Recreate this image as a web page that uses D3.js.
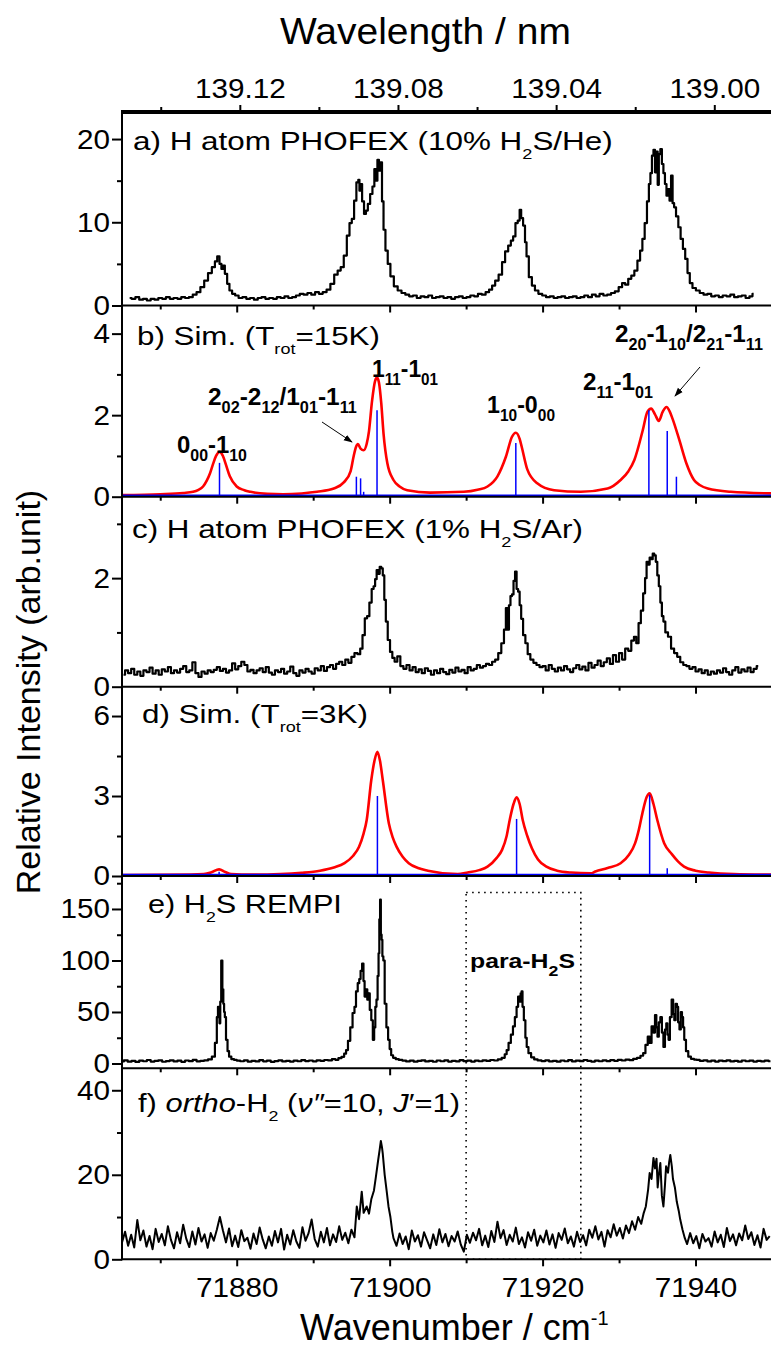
<!DOCTYPE html>
<html><head><meta charset="utf-8">
<script src="https://cdn.jsdelivr.net/npm/d3@7"></script>
<style>
body{margin:0;background:#fff;}
svg text{font-family:Arial,"Liberation Sans",sans-serif;fill:#000;}
</style></head><body>
<svg id="c" width="771" height="1351"></svg>
<script>
// ---------------- DATA ----------------
const xMajor = [71880, 71900, 71920, 71940];
const xMinor = [71870, 71890, 71910, 71930, 71950];
const topMajor = [139.12, 139.08, 139.04, 139.00];
const topMinor = [139.14, 139.10, 139.06, 139.02];
const aMajor=[0,10,20], aMinor=[5,15];
const bMajor=[0,2,4], bMinor=[1,3];
const cMajor=[0,2], cMinor=[1,3];
const dMajor=[0,3,6], dMinor=[1.5,4.5];
const eMajor=[0,50,100,150], eMinor=[25,75,125,175];
const fMajor=[0,20,40], fMinor=[10,30];

// a) H atom PHOFEX (10% H2S/He)
const seriesA = [[71866,0.9],[71866.5,0.8],[71867,1.0],[71867.5,0.7],[71868,0.8],[71868.5,0.6],[71869,0.8],[71869.5,0.7],[71870,0.9],[71870.5,0.8],[71871,1.0],[71871.5,0.8],[71872,0.9],[71872.5,0.8],[71873,1.0],[71873.5,0.9],[71874,1.0],[71874.5,1.3],[71875,1.6],[71875.5,2.2],[71876,3.0],[71876.5,3.9],[71877,4.6],[71877.3,5.3],[71877.6,5.9],[71877.9,5.0],[71878.1,4.4],[71878.3,4.8],[71878.6,3.8],[71878.9,2.6],[71879.2,1.8],[71879.6,1.4],[71880,1.2],[71880.5,0.9],[71881,1.0],[71881.5,0.8],[71882,0.9],[71882.5,0.7],[71883,0.9],[71883.5,1.0],[71884,0.8],[71884.5,0.9],[71885,0.8],[71885.5,1.0],[71886,0.9],[71886.5,1.1],[71887,0.9],[71887.5,1.0],[71888,1.2],[71888.5,1.4],[71889,1.3],[71889.5,1.5],[71890,1.3],[71890.5,1.6],[71891,1.4],[71891.5,1.6],[71892,1.9],[71892.5,2.6],[71893,3.7],[71893.4,4.2],[71893.8,4.6],[71894.2,6.0],[71894.6,8.4],[71894.9,9.9],[71895.2,10.4],[71895.5,12.6],[71895.8,14.8],[71896.0,15.1],[71896.1,13.8],[71896.3,14.6],[71896.5,12.5],[71896.8,11.0],[71897.0,11.4],[71897.3,12.2],[71897.6,13.4],[71897.9,14.3],[71898.1,16.4],[71898.3,15.0],[71898.5,17.5],[71898.7,16.2],[71898.9,17.2],[71899.1,12.5],[71899.3,9.1],[71899.6,6.6],[71899.9,5.0],[71900.3,3.5],[71900.8,2.3],[71901.3,1.8],[71901.8,1.5],[71902.3,1.3],[71902.8,1.1],[71903.3,1.2],[71903.8,0.9],[71904.3,1.1],[71904.8,1.0],[71905.3,1.2],[71905.8,0.9],[71906.3,1.0],[71906.8,1.1],[71907.3,0.9],[71907.8,1.0],[71908.3,0.8],[71908.8,1.0],[71909.3,1.1],[71909.8,0.9],[71910.3,1.0],[71910.8,1.2],[71911.3,1.1],[71911.8,1.4],[71912.3,1.3],[71912.8,1.6],[71913.2,1.9],[71913.6,2.4],[71914.0,3.0],[71914.5,3.7],[71914.9,5.2],[71915.3,6.5],[71915.7,7.2],[71916.0,7.8],[71916.3,8.3],[71916.6,9.9],[71916.9,10.2],[71917.1,11.5],[71917.3,10.5],[71917.6,9.6],[71917.8,7.6],[71918.0,5.9],[71918.4,3.4],[71918.8,2.4],[71919.2,1.8],[71919.7,1.4],[71920.2,1.2],[71920.7,1.0],[71921.2,1.1],[71921.7,0.9],[71922.2,1.0],[71922.7,1.1],[71923.2,0.9],[71923.7,1.0],[71924.2,1.1],[71924.7,0.9],[71925.2,1.0],[71925.7,1.2],[71926.2,1.0],[71926.7,1.3],[71927.2,1.1],[71927.7,1.4],[71928.2,1.2],[71928.7,1.3],[71929.2,1.5],[71929.7,1.7],[71930.2,2.2],[71930.6,2.7],[71931.0,2.5],[71931.4,3.2],[71931.8,3.6],[71932.2,4.2],[71932.6,5.4],[71932.9,6.6],[71933.2,8.0],[71933.5,9.9],[71933.8,12.5],[71934.0,14.6],[71934.2,15.9],[71934.4,18.0],[71934.6,18.7],[71934.8,16.0],[71935.0,18.5],[71935.1,14.5],[71935.3,18.2],[71935.5,18.8],[71935.7,17.0],[71935.9,15.9],[71936.1,14.6],[71936.3,13.2],[71936.5,14.0],[71936.7,12.6],[71936.9,15.6],[71937.1,12.3],[71937.3,11.8],[71937.6,10.7],[71937.9,9.4],[71938.2,8.0],[71938.5,6.8],[71938.8,5.6],[71939.1,3.9],[71939.4,2.7],[71939.8,2.1],[71940.3,1.8],[71940.8,1.5],[71941.3,1.3],[71941.8,1.4],[71942.3,1.1],[71942.8,1.2],[71943.3,1.0],[71943.8,1.2],[71944.3,1.1],[71944.8,1.3],[71945.3,1.0],[71945.8,1.1],[71946.3,1.2],[71946.8,0.9],[71947.3,1.1],[71947.6,1.4]];

// b) simulation 15 K
const simB = [[71865,0.04],[71870,0.06],[71873,0.09],[71874.3,0.12],[71875.0,0.17],[71875.6,0.25],[71876.1,0.4],[71876.5,0.57],[71876.9,0.8],[71877.3,1.0],[71877.75,1.10],[71878.2,1.0],[71878.6,0.78],[71879.1,0.5],[71880.0,0.25],[71881.0,0.16],[71881.8,0.12],[71884,0.07],[71886.1,0.06],[71888.5,0.08],[71890.5,0.12],[71892.7,0.2],[71894.0,0.35],[71894.9,0.63],[71895.3,1.0],[71895.6,1.22],[71895.85,1.29],[71896.2,1.18],[71896.6,1.14],[71897.0,1.3],[71897.3,1.61],[71897.7,2.35],[71898.1,2.84],[71898.35,2.92],[71898.6,2.8],[71898.9,2.3],[71899.2,1.55],[71899.7,0.82],[71900.5,0.41],[71901.3,0.25],[71902.3,0.16],[71905.3,0.1],[71909.7,0.12],[71911.5,0.17],[71912.8,0.25],[71914.1,0.5],[71915.2,0.98],[71916.0,1.47],[71916.5,1.57],[71917.0,1.42],[71917.3,1.2],[71918.0,0.67],[71919.3,0.33],[71921.5,0.16],[71925.0,0.12],[71928.5,0.2],[71930.2,0.41],[71931.2,0.62],[71932.0,0.9],[71933.1,1.63],[71933.7,2.08],[71934.2,2.16],[71934.7,2.02],[71935.2,1.86],[71935.7,2.08],[71936.2,2.2],[71936.6,2.1],[71937.0,1.91],[71937.9,1.38],[71938.8,0.82],[71939.8,0.41],[71940.6,0.28],[71941.6,0.2],[71944.6,0.12],[71950,0.08]];
const sticksB = [[71877.75,0.83],[71895.65,0.49],[71896.2,0.45],[71896.6,0.12],[71898.35,2.12],[71916.5,1.32],[71933.9,2.12],[71936.3,1.61],[71937.5,0.49]];

// c) H atom PHOFEX (1% H2S/Ar)
const seriesC = [[71865.2,0.22],[71865.6,0.30],[71866,0.25],[71866.4,0.33],[71866.8,0.22],[71867.2,0.28],[71867.6,0.20],[71868,0.30],[71868.4,0.27],[71868.8,0.35],[71869.2,0.24],[71869.6,0.30],[71870,0.22],[71870.4,0.32],[71870.8,0.28],[71871.2,0.36],[71871.6,0.25],[71872,0.30],[71872.4,0.26],[71872.8,0.33],[71873.2,0.38],[71873.6,0.27],[71874,0.30],[71874.4,0.45],[71874.8,0.25],[71875.2,0.18],[71875.6,0.28],[71876,0.24],[71876.4,0.30],[71876.8,0.27],[71877.2,0.31],[71877.6,0.36],[71878,0.29],[71878.4,0.33],[71878.8,0.26],[71879.2,0.30],[71879.6,0.43],[71880,0.32],[71880.4,0.38],[71880.8,0.46],[71881.2,0.40],[71881.6,0.28],[71882,0.31],[71882.4,0.25],[71882.8,0.30],[71883.2,0.34],[71883.6,0.27],[71884,0.36],[71884.4,0.26],[71884.8,0.22],[71885.2,0.30],[71885.6,0.27],[71886,0.33],[71886.4,0.24],[71886.8,0.28],[71887.2,0.37],[71887.6,0.25],[71888,0.20],[71888.4,0.30],[71888.8,0.26],[71889.2,0.33],[71889.6,0.28],[71890,0.24],[71890.4,0.34],[71890.8,0.30],[71891.2,0.38],[71891.6,0.29],[71892,0.36],[71892.4,0.40],[71892.8,0.33],[71893.2,0.42],[71893.6,0.46],[71894,0.40],[71894.4,0.50],[71894.8,0.44],[71895.2,0.55],[71895.6,0.62],[71896,0.60],[71896.3,0.70],[71896.6,0.95],[71896.9,1.26],[71897.2,1.30],[71897.5,1.55],[71897.8,1.80],[71898.0,1.85],[71898.2,1.98],[71898.4,2.15],[71898.6,2.08],[71898.8,2.21],[71899.0,2.18],[71899.2,2.05],[71899.4,1.60],[71899.6,1.20],[71899.9,0.86],[71900.2,0.64],[71900.5,0.53],[71900.8,0.46],[71901.2,0.56],[71901.6,0.38],[71902,0.33],[71902.4,0.40],[71902.8,0.30],[71903.2,0.36],[71903.6,0.27],[71904,0.32],[71904.4,0.25],[71904.8,0.34],[71905.2,0.29],[71905.6,0.22],[71906,0.30],[71906.4,0.25],[71906.8,0.33],[71907.2,0.27],[71907.6,0.23],[71908,0.31],[71908.4,0.26],[71908.8,0.35],[71909.2,0.28],[71909.6,0.31],[71910,0.25],[71910.4,0.36],[71910.8,0.30],[71911.2,0.33],[71911.6,0.40],[71912,0.35],[71912.4,0.38],[71912.8,0.42],[71913.2,0.40],[71913.6,0.46],[71914,0.50],[71914.4,0.62],[71914.8,0.80],[71915.1,1.05],[71915.3,1.45],[71915.5,1.05],[71915.7,1.50],[71915.9,1.67],[71916.1,1.70],[71916.3,1.95],[71916.5,2.12],[71916.7,1.80],[71916.9,1.75],[71917.1,1.50],[71917.3,1.25],[71917.6,0.95],[71917.9,0.80],[71918.2,0.60],[71918.6,0.50],[71919,0.44],[71919.4,0.40],[71919.8,0.36],[71920.2,0.38],[71920.6,0.30],[71921,0.40],[71921.4,0.33],[71921.8,0.28],[71922.2,0.35],[71922.6,0.30],[71923,0.38],[71923.4,0.32],[71923.8,0.27],[71924.2,0.34],[71924.6,0.40],[71925,0.32],[71925.4,0.37],[71925.8,0.30],[71926.2,0.44],[71926.6,0.35],[71927,0.40],[71927.4,0.48],[71927.8,0.38],[71928.2,0.45],[71928.6,0.52],[71929,0.42],[71929.4,0.58],[71929.8,0.46],[71930.2,0.62],[71930.6,0.50],[71931,0.70],[71931.4,0.66],[71931.8,0.85],[71932.1,0.92],[71932.4,0.80],[71932.7,1.17],[71933.0,1.40],[71933.3,1.72],[71933.5,2.00],[71933.7,2.30],[71933.9,2.25],[71934.1,2.38],[71934.3,2.35],[71934.5,2.45],[71934.7,2.42],[71934.9,2.30],[71935.1,2.05],[71935.3,1.85],[71935.5,1.55],[71935.7,1.30],[71935.9,1.20],[71936.2,1.00],[71936.6,0.92],[71937.0,0.70],[71937.4,0.62],[71937.8,0.55],[71938.2,0.45],[71938.6,0.40],[71939,0.38],[71939.4,0.33],[71939.8,0.36],[71940.2,0.28],[71940.6,0.32],[71941,0.25],[71941.4,0.30],[71941.8,0.22],[71942.2,0.28],[71942.6,0.24],[71943,0.30],[71943.4,0.26],[71943.8,0.34],[71944.2,0.27],[71944.6,0.22],[71945,0.30],[71945.4,0.36],[71945.8,0.26],[71946.2,0.32],[71946.6,0.28],[71947,0.35],[71947.4,0.27],[71947.8,0.33],[71948.2,0.38]];

// d) simulation 3 K
const simD = [[71865,0.04],[71874,0.05],[71875.7,0.07],[71876.7,0.14],[71877.7,0.25],[71878.5,0.15],[71879.3,0.07],[71882,0.05],[71885.7,0.07],[71888.5,0.12],[71890.9,0.2],[71892.7,0.32],[71894.1,0.48],[71895.2,0.75],[71896.0,1.1],[71896.6,1.6],[71897.0,2.1],[71897.6,3.6],[71898.0,4.3],[71898.4,4.66],[71898.75,4.3],[71899.1,3.6],[71899.9,1.97],[71900.4,1.45],[71900.9,1.1],[71901.7,0.72],[71902.5,0.48],[71903.7,0.3],[71905.0,0.2],[71908.9,0.07],[71910.2,0.13],[71911.7,0.22],[71912.8,0.35],[71914.0,0.68],[71914.7,0.98],[71915.3,1.5],[71915.7,2.1],[71916.2,2.7],[71916.6,2.95],[71917.0,2.7],[71917.4,2.1],[71918.0,1.5],[71918.6,1.04],[71919.4,0.62],[71920.5,0.35],[71921.9,0.2],[71923.7,0.13],[71926.3,0.1],[71926.9,0.17],[71928.5,0.3],[71930.2,0.48],[71931.3,0.8],[71932.1,1.23],[71932.6,1.75],[71933.05,2.35],[71933.6,2.95],[71934.0,3.1],[71934.5,2.7],[71935.0,2.1],[71935.9,1.23],[71936.9,0.82],[71937.7,0.55],[71938.5,0.35],[71940,0.2],[71941.75,0.13],[71945,0.07],[71950,0.05]];
const sticksD = [[71877.7,0.16],[71898.4,3.0],[71916.6,2.14],[71934.0,3.04],[71936.3,0.29]];

// e) H2S REMPI
const seriesE = [[71865,2.0],[71865.5,3.0],[71866,1.8],[71866.5,2.6],[71867,1.5],[71867.5,2.8],[71868,2.2],[71868.5,3.4],[71869,1.9],[71869.5,2.5],[71870,3.1],[71870.5,1.7],[71871,2.4],[71871.5,3.0],[71872,2.0],[71872.5,2.7],[71873,1.6],[71873.5,2.9],[71874,2.3],[71874.5,3.5],[71875,2.1],[71875.5,2.6],[71876,3.0],[71876.5,4.0],[71877.0,6.6],[71877.3,20],[71877.5,45],[71877.6,55],[71877.7,48],[71877.8,39],[71877.9,60],[71878.05,100],[71878.2,72],[71878.3,58],[71878.4,50],[71878.5,45],[71878.7,23],[71878.9,12],[71879.1,6.6],[71879.5,4.2],[71879.8,3.5],[71880.2,2.8],[71880.7,2.2],[71881.2,3.0],[71881.7,1.8],[71882.2,2.6],[71882.7,2.0],[71883.2,3.2],[71883.7,2.1],[71884.2,2.7],[71884.7,1.6],[71885.2,2.4],[71885.7,3.0],[71886.2,2.0],[71886.7,2.6],[71887.2,1.9],[71887.7,2.8],[71888.2,2.2],[71888.7,3.3],[71889.2,2.4],[71889.7,2.9],[71890.2,2.1],[71890.7,3.0],[71891.2,2.6],[71891.7,3.4],[71892.2,3.0],[71892.7,4.2],[71893.1,3.6],[71893.5,5.2],[71893.9,6.5],[71894.2,9.5],[71894.4,13],[71894.7,22],[71895.0,35],[71895.3,49],[71895.5,55],[71895.7,70],[71895.95,78],[71896.1,82],[71896.3,90],[71896.5,97],[71896.65,80],[71896.8,65],[71897.0,72],[71897.15,62],[71897.3,68],[71897.5,52],[71897.7,42],[71897.9,23],[71898.05,35],[71898.2,55],[71898.35,62],[71898.5,85],[71898.6,107],[71898.7,140],[71898.8,159],[71898.9,125],[71899.0,120],[71899.1,104],[71899.25,100],[71899.45,58],[71899.7,35],[71899.9,23],[71900.1,14],[71900.3,8],[71900.6,5.5],[71901.0,4.2],[71901.4,3.5],[71901.9,2.8],[71902.4,2.0],[71902.9,2.7],[71903.4,1.8],[71903.9,2.5],[71904.4,3.1],[71904.9,2.0],[71905.4,2.6],[71905.9,1.7],[71906.4,2.9],[71906.9,2.2],[71907.4,3.0],[71907.9,1.9],[71908.4,2.6],[71908.9,2.1],[71909.4,3.2],[71909.9,2.3],[71910.4,2.8],[71910.9,1.9],[71911.4,2.7],[71911.9,2.2],[71912.4,3.1],[71912.9,2.5],[71913.4,3.4],[71913.9,2.9],[71914.4,4.0],[71914.9,5.5],[71915.2,9],[71915.4,13],[71915.7,20],[71916.0,28],[71916.25,36],[71916.5,45],[71916.7,55],[71916.9,65],[71917.05,60],[71917.2,68],[71917.3,70],[71917.45,55],[71917.65,42],[71917.85,25],[71918.0,16],[71918.3,10],[71918.7,6],[71919.1,4.0],[71919.6,3.0],[71920.1,2.4],[71920.6,3.0],[71921.1,2.0],[71921.6,2.6],[71922.1,1.8],[71922.6,2.9],[71923.1,2.2],[71923.6,3.3],[71924.1,2.0],[71924.6,2.7],[71925.1,2.3],[71925.6,3.4],[71926.1,2.5],[71926.6,1.9],[71927.1,2.8],[71927.6,2.2],[71928.1,3.0],[71928.6,2.4],[71929.1,3.2],[71929.6,2.6],[71930.1,3.5],[71930.6,2.9],[71931.1,3.8],[71931.6,3.2],[71932.1,4.5],[71932.6,5.5],[71933.0,7.5],[71933.3,10],[71933.6,18],[71933.9,26],[71934.1,20],[71934.4,36],[71934.6,30],[71934.8,47],[71934.95,35],[71935.1,26],[71935.3,40],[71935.5,45],[71935.7,30],[71935.9,16],[71936.1,33],[71936.25,39],[71936.4,28],[71936.55,23],[71936.75,45],[71937.0,62],[71937.15,48],[71937.3,42],[71937.5,58],[71937.65,55],[71937.8,40],[71938.0,33],[71938.15,50],[71938.3,45],[71938.45,35],[71938.6,23],[71938.9,12],[71939.2,6.6],[71939.6,4.5],[71940.0,3.8],[71940.3,3.5],[71940.8,2.6],[71941.3,3.0],[71941.8,2.0],[71942.3,2.7],[71942.8,1.9],[71943.3,2.8],[71943.8,2.3],[71944.3,3.1],[71944.8,2.0],[71945.3,2.6],[71945.8,1.8],[71946.3,2.9],[71946.8,2.2],[71947.3,2.7],[71947.8,1.9],[71948.3,2.5],[71948.8,2.1],[71949.3,2.8],[71949.8,2.2]];

// f) ortho-H2 (v''=10, J'=1)
const seriesF = [[71865.0,4.0],[71865.4,6.5],[71865.8,3.2],[71866.2,5.8],[71866.6,2.8],[71867.0,9.3],[71867.4,4.5],[71867.8,6.8],[71868.2,3.0],[71868.6,5.5],[71869.0,2.4],[71869.4,7.2],[71869.8,4.1],[71870.2,6.0],[71870.6,3.3],[71871.0,7.8],[71871.4,4.6],[71871.8,2.6],[71872.2,6.4],[71872.6,3.8],[71873.0,8.2],[71873.4,4.9],[71873.8,2.9],[71874.2,6.6],[71874.6,3.5],[71875.0,7.4],[71875.4,4.2],[71875.8,5.9],[71876.2,2.7],[71876.6,6.2],[71877.0,4.4],[71877.4,7.0],[71877.8,10.0],[71878.2,6.8],[71878.6,4.0],[71879.0,7.3],[71879.4,3.1],[71879.8,5.6],[71880.2,2.9],[71880.6,6.9],[71881.0,4.3],[71881.4,5.1],[71881.8,2.5],[71882.2,6.1],[71882.6,3.6],[71883.0,7.5],[71883.4,4.7],[71883.8,2.6],[71884.2,5.4],[71884.6,3.2],[71885.0,6.7],[71885.4,4.0],[71885.8,7.2],[71886.2,2.3],[71886.6,5.8],[71887.0,3.5],[71887.4,6.9],[71887.8,4.2],[71888.2,2.7],[71888.6,7.6],[71889.0,4.4],[71889.4,6.2],[71889.8,9.4],[71890.2,4.8],[71890.6,3.0],[71891.0,6.5],[71891.4,4.0],[71891.8,7.4],[71892.2,3.3],[71892.6,5.9],[71893.0,4.1],[71893.4,7.8],[71893.8,4.6],[71894.2,6.3],[71894.6,3.8],[71895.0,7.0],[71895.4,5.2],[71895.7,12.5],[71896.0,9.5],[71896.35,16.0],[71896.6,11.0],[71897.0,12.5],[71897.3,10.8],[71897.6,14.2],[71897.95,16.3],[71898.2,19.5],[71898.5,23.5],[71898.7,26.0],[71898.85,28.0],[71899.0,26.5],[71899.1,25.0],[71899.35,20.0],[71899.6,16.3],[71899.85,12.5],[71900.1,10.0],[71900.35,6.5],[71900.5,5.0],[71900.9,3.2],[71901.3,6.1],[71901.7,3.6],[71902.1,5.4],[71902.5,2.4],[71902.9,6.8],[71903.3,4.2],[71903.7,5.7],[71904.1,3.0],[71904.5,6.4],[71904.9,4.5],[71905.3,2.6],[71905.7,5.9],[71906.1,3.4],[71906.5,7.1],[71906.9,4.0],[71907.3,6.0],[71907.7,3.1],[71908.1,5.5],[71908.5,4.2],[71908.9,6.6],[71909.3,3.5],[71909.7,1.8],[71910.1,5.8],[71910.5,3.9],[71910.9,6.3],[71911.3,4.5],[71911.7,7.2],[71912.1,3.3],[71912.5,5.6],[71912.9,2.9],[71913.3,6.7],[71913.7,4.1],[71914.1,8.9],[71914.5,5.0],[71914.9,6.9],[71915.3,3.4],[71915.7,5.8],[71916.1,4.2],[71916.5,7.5],[71916.9,3.6],[71917.3,5.2],[71917.7,2.8],[71918.1,6.4],[71918.5,4.4],[71918.9,7.0],[71919.3,3.2],[71919.7,5.6],[71920.1,4.0],[71920.5,6.8],[71920.9,3.5],[71921.3,5.9],[71921.7,2.7],[71922.1,6.2],[71922.5,4.6],[71922.9,7.3],[71923.3,3.8],[71923.7,5.4],[71924.1,3.0],[71924.5,6.5],[71924.9,4.1],[71925.3,5.7],[71925.7,3.3],[71926.1,7.0],[71926.5,5.1],[71926.9,7.8],[71927.3,4.7],[71927.7,6.5],[71928.1,3.0],[71928.5,6.9],[71928.9,5.2],[71929.3,8.3],[71929.7,5.6],[71930.1,7.4],[71930.5,4.9],[71930.9,8.0],[71931.3,6.2],[71931.7,9.0],[71932.1,7.0],[71932.5,10.0],[71932.9,8.4],[71933.2,10.8],[71933.5,12.5],[71933.8,16.5],[71934.0,20.4],[71934.25,19.0],[71934.5,24.0],[71934.7,21.5],[71934.9,23.8],[71935.05,17.0],[71935.2,20.0],[71935.4,22.8],[71935.6,15.0],[71935.8,12.5],[71936.0,17.5],[71936.15,22.0],[71936.4,20.5],[71936.55,23.0],[71936.7,24.7],[71936.9,22.0],[71937.05,19.0],[71937.3,17.0],[71937.55,13.6],[71937.8,11.5],[71938.0,9.4],[71938.3,7.0],[71938.6,5.0],[71938.9,3.6],[71939.3,6.2],[71939.7,3.8],[71940.1,5.5],[71940.5,2.6],[71940.9,6.0],[71941.3,4.2],[71941.7,5.0],[71942.1,3.0],[71942.5,6.6],[71942.9,4.0],[71943.3,5.8],[71943.7,2.9],[71944.1,7.4],[71944.5,4.3],[71944.9,5.9],[71945.3,3.3],[71945.7,6.1],[71946.1,4.5],[71946.5,8.0],[71946.9,4.8],[71947.3,6.4],[71947.7,3.4],[71948.1,5.7],[71948.5,2.8],[71948.9,7.2],[71949.3,4.6],[71949.7,5.5]];

// para-H2S box: wavenumber range and top (in panel e units)
const paraBoxX = [71910, 71925];
const paraBoxTopE = 166;

// ---------------- LAYOUT ----------------
const svg = d3.select('#c');
const L = 122, R = 772, TOP = 112;
const FONT = 'Arial, "Liberation Sans", sans-serif';
const x = d3.scaleLinear().domain([71865, 71950]).range([L, R]);
const xTop = d3.scaleLinear().domain([1e7/71865, 1e7/71950]).range([L, R]);

const panelDefs = [
  {y0:112,   y1:305.5,  dom:[0,23.25], major:aMajor, minor:aMinor},
  {y0:305.5, y1:496.7,  dom:[0,4.69],  major:bMajor, minor:bMinor},
  {y0:496.7, y1:686.7,  dom:[0,3.5],   major:cMajor, minor:cMinor},
  {y0:686.7, y1:876,    dom:[0,7.1],   major:dMajor, minor:dMinor},
  {y0:876,   y1:1068.3, dom:[-4.66,182], major:eMajor, minor:eMinor},
  {y0:1068.3,y1:1259.3, dom:[0,45.2],  major:fMajor, minor:fMinor},
];
panelDefs.forEach(p => p.y = d3.scaleLinear().domain(p.dom).range([p.y1, p.y0]));
const [pA,pB,pC,pD,pE,pF] = panelDefs;

const TICKSTRETCH = 1.06;
function styleTicks(sel, size){
  sel.attr('font-family', FONT).attr('font-size', size);
  sel.select('.domain').remove();
  sel.selectAll('.tick line').attr('stroke','#000').attr('stroke-width',2);
}

const lineOf = (p) => d3.line().x(d=>x(d[0])).y(d=>p.y(d[1]));
function trace(p, data, color, w, curve){
  const l = lineOf(p); if(curve) l.curve(curve);
  svg.append('path').datum(data).attr('d', l).attr('fill','none')
    .attr('stroke', color).attr('stroke-width', w).attr('stroke-linejoin','round');
}
trace(pA, seriesA, '#000', 2.2, d3.curveStep);
trace(pC, seriesC, '#000', 2.2, d3.curveStep);
trace(pE, seriesE, '#000', 2.2, d3.curveStep);
trace(pF, seriesF, '#000', 2.0);

function simPanel(p, curveData, sticks){
  trace(p, curveData, '#ff0000', 2.6, d3.curveMonotoneX);
  svg.append('g').selectAll('line').data(sticks).join('line')
    .attr('x1', d=>x(d[0])).attr('x2', d=>x(d[0]))
    .attr('y1', p.y(0)).attr('y2', d=>p.y(d[1]))
    .attr('stroke','#0000ff').attr('stroke-width',1.5);
  svg.append('line').attr('x1', x(71865)).attr('x2', x(71950))
    .attr('y1', p.y(0)-1.2).attr('y2', p.y(0)-1.2)
    .attr('stroke','#0000ff').attr('stroke-width',2.2);
}
simPanel(pB, simB, sticksB);
simPanel(pD, simD, sticksD);

panelDefs.forEach((p, i) => {
  svg.append('g').attr('transform',`translate(${L},0)`)
    .call(d3.axisLeft(p.y).tickValues(p.minor).tickSize(5).tickFormat(''))
    .call(s=>styleTicks(s, 28));
  const gy = svg.append('g').attr('transform',`translate(${L},0)`)
    .call(d3.axisLeft(p.y).tickValues(p.major).tickSize(10).tickPadding(2).tickFormat(d3.format('d')))
    .call(s=>styleTicks(s, 28));
  gy.selectAll('.tick text').each(function(){
    const t = d3.select(this); const xv = +t.attr('x');
    t.attr('x', xv / TICKSTRETCH).attr('transform', `scale(${TICKSTRETCH},1)`).attr('fill','#000');
  });
  svg.append('g').attr('transform',`translate(0,${p.y1})`)
    .call(d3.axisBottom(x).tickValues(xMinor).tickSize(4).tickFormat(''))
    .call(s=>styleTicks(s, 28));
  const last = i === panelDefs.length-1;
  const gx = svg.append('g').attr('transform',`translate(0,${p.y1})`)
    .call(d3.axisBottom(x).tickValues(xMajor).tickSize(7).tickPadding(11)
      .tickFormat(last ? d3.format('d') : ''))
    .call(s=>styleTicks(s, 28));
  gx.selectAll('.tick text').attr('transform', `scale(${TICKSTRETCH},1)`).attr('fill','#000');
  svg.append('line').attr('x1', L).attr('x2', R).attr('y1', p.y1).attr('y2', p.y1)
    .attr('stroke','#000').attr('stroke-width',2);
});

svg.append('g').attr('transform',`translate(0,${TOP})`)
  .call(d3.axisTop(xTop).tickValues(topMinor).tickSize(5).tickFormat(''))
  .call(s=>styleTicks(s, 28));
const gt = svg.append('g').attr('transform',`translate(0,${TOP})`)
  .call(d3.axisTop(xTop).tickValues(topMajor).tickSize(7).tickPadding(7).tickFormat(d3.format('.2f')))
  .call(s=>styleTicks(s, 28));
gt.selectAll('.tick text').attr('transform', `scale(${TICKSTRETCH},1)`).attr('fill','#000');
svg.append('line').attr('x1', L-1).attr('x2', R).attr('y1', TOP).attr('y2', TOP)
  .attr('stroke','#000').attr('stroke-width',4);
svg.append('line').attr('x1', L).attr('x2', L).attr('y1', TOP-2).attr('y2', pF.y1+1)
  .attr('stroke','#000').attr('stroke-width',2);

svg.append('rect').attr('x', x(paraBoxX[0])).attr('y', pE.y(paraBoxTopE))
  .attr('width', x(paraBoxX[1]) - x(paraBoxX[0])).attr('height', pF.y(0) - pE.y(paraBoxTopE))
  .attr('fill','none').attr('stroke','#000').attr('stroke-width',1.6)
  .attr('stroke-dasharray','1.6,4.4');

function rich(x0, y0, parts, size, weight, targetW){
  const g = svg.append('g').attr('transform',`translate(${x0},${y0})`);
  const t = g.append('text').attr('font-size', size).attr('font-weight', weight||'normal')
    .attr('font-family', FONT);
  let shift = 0;
  parts.forEach(p => {
    const s = t.append('tspan').text(p.t);
    const want = p.sub ? p.sub : (p.sup ? -p.sup : 0);
    if (p.size) s.attr('font-size', p.size);
    if (want !== shift) { s.attr('dy', want - shift); shift = want; }
    if (p.it) s.attr('font-style','italic');
    if (p.w) s.attr('font-weight', p.w);
  });
  if (targetW) {
    const w = t.node().getComputedTextLength();
    g.attr('transform', `translate(${x0},${y0}) scale(${targetW/w},1)`);
  }
  return g;
}
const S = 15;
rich(133, 150, [{t:'a) H atom PHOFEX (10% H'},{t:'2',sub:9,size:S},{t:'S/He)'}], 26, 'normal', 480);
rich(137, 345, [{t:'b) Sim. (T'},{t:'rot',sub:9,size:S},{t:'=15K)'}], 26, 'normal', 243);
rich(132, 538, [{t:'c) H atom PHOFEX (1% H'},{t:'2',sub:9,size:S},{t:'S/Ar)'}], 26, 'normal', 451);
rich(142, 723, [{t:'d) Sim. (T'},{t:'rot',sub:9,size:S},{t:'=3K)'}], 26, 'normal', 226);
rich(148, 913, [{t:'e) H'},{t:'2',sub:9,size:S},{t:'S REMPI'}], 26, 'normal', 194);
rich(138, 1112, [{t:'f) '},{t:'ortho',it:true},{t:'-H'},{t:'2',sub:9,size:S},{t:' ('},{t:'ν″',it:true},{t:'=10, '},{t:'J',it:true},{t:'′=1)'}], 26, 'normal', 322);

const B = 24, BS = 16, BD = 8;
function trans(x0, y0, segs, w){
  const parts = [];
  segs.forEach(s => { parts.push({t:s[0]}); if (s[1]) parts.push({t:s[1], sub:BD, size:BS}); });
  rich(x0, y0, parts, B, 'bold', w);
}
trans(177, 453, [['0','00'],['-1','10']], 70);
trans(208, 405, [['2','02'],['-2','12'],['/1','01'],['-1','11']], 149);
trans(372, 377, [['1','11'],['-1','01']], 66);
trans(487, 413, [['1','10'],['-0','00']], 68);
trans(583, 390, [['2','11'],['-1','01']], 70);
trans(615, 342, [['2','20'],['-1','10'],['/2','21'],['-1','11']], 148);
rich(470, 968, [{t:'para-H'},{t:'2',sub:8,size:15},{t:'S'}], 21, 'bold', 105);

const defs = svg.append('defs');
defs.append('marker').attr('id','ah').attr('viewBox','0 0 10 10').attr('refX',9).attr('refY',5)
  .attr('markerWidth',9).attr('markerHeight',9).attr('orient','auto').attr('markerUnits','userSpaceOnUse')
  .append('path').attr('d','M0,1.5 L10,5 L0,8.5 Z').attr('fill','#000');
[[322,422,352,442],[700,367,675,396]].forEach(a => {
  svg.append('line').attr('x1',a[0]).attr('y1',a[1]).attr('x2',a[2]).attr('y2',a[3])
    .attr('stroke','#000').attr('stroke-width',1).attr('marker-end','url(#ah)');
});

rich(280, 44, [{t:'Wavelength / nm'}], 36, 'normal', 291);
rich(300, 1340, [{t:'Wavenumber / cm'},{t:'-1',sup:15,size:20}], 36, 'normal', null);
svg.append('text').attr('transform','translate(40,692) rotate(-90)').attr('text-anchor','middle')
  .attr('font-size',34).attr('font-family',FONT).text('Relative Intensity (arb.unit)');
</script>
</body></html>
